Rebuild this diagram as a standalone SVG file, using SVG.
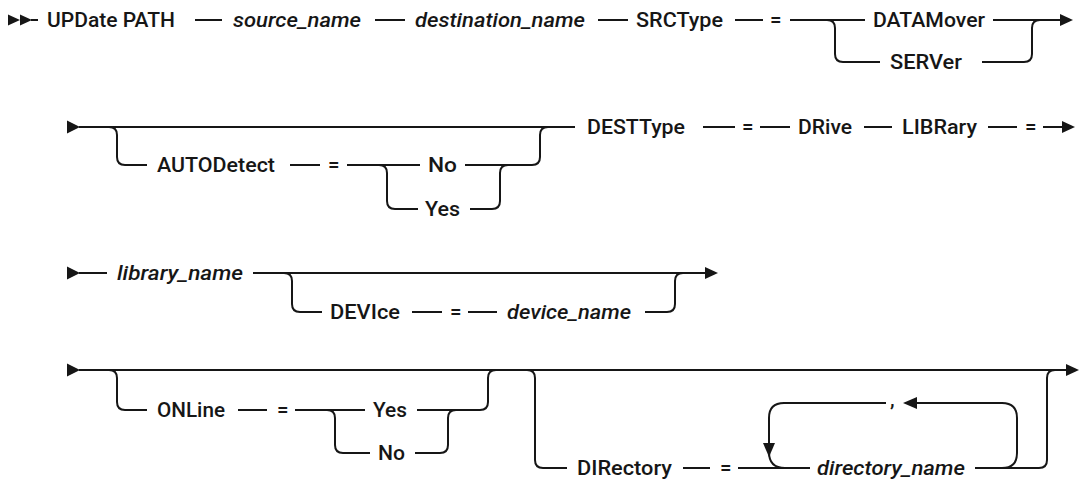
<svg xmlns="http://www.w3.org/2000/svg" width="1080" height="482" viewBox="0 0 1080 482">
<defs>
<style>
.t{font-family:Roboto,"Liberation Sans",Arial,sans-serif;font-size:20.5px;font-weight:500;fill:#161616}
.i{font-style:italic}
.c{fill:none;stroke:#161616;stroke-width:2}
.a{fill:#161616;stroke:none}
</style>
</defs>
<rect width="1080" height="482" fill="#ffffff"/>
<g id="connectors">
<!-- row 1 -->
<polygon class="a" points="8,14.5 20,20 8,25.5"/>
<polygon class="a" points="20,14.5 32,20 20,25.5"/>
<path class="c" d="M31 20H38M195 20H222M375 20H405M598 20H628M735 20H763M790 20H865M993 20H1061"/>
<polygon class="a" points="1060,14 1073,20 1060,26"/>
<path class="c" d="M827 20Q835 20 835 28V54Q835 62 843 62H880M982 62H1024Q1032 62 1032 54V28Q1032 20 1040 20"/>
<!-- row 2 -->
<polygon class="a" points="67,120.5 80,127 67,133.5"/>
<path class="c" d="M79 127H575M703 127H735M760 127H790M864 127H892M988 127H1017M1043 127H1063"/>
<polygon class="a" points="1062,121 1075,127 1062,133"/>
<path class="c" d="M109 127Q117 127 117 135V157Q117 165 125 165H147M290 165H320M347 165H420M465 165H532Q540 165 540 157V135Q540 127 548 127"/>
<path class="c" d="M379 165Q387 165 387 173V201Q387 209 395 209H418M470 209H492Q500 209 500 201V173Q500 165 508 165"/>
<!-- row 3 -->
<polygon class="a" points="67,266.5 80,273 67,279.5"/>
<path class="c" d="M79 273H107M253 273H706"/>
<polygon class="a" points="705,267 718,273 705,279"/>
<path class="c" d="M284 273Q292 273 292 281V304Q292 312 300 312H322M412 312H442M468 312H497M645 312H667Q675 312 675 304V281Q675 273 683 273"/>
<!-- row 4 -->
<polygon class="a" points="67,363.5 80,370 67,376.5"/>
<path class="c" d="M79 370H1067"/>
<polygon class="a" points="1066,364 1079,370 1066,376"/>
<path class="c" d="M109 370Q117 370 117 378V402Q117 410 125 410H147M238 410H267M295 410H365M417 410H480Q488 410 488 402V378Q488 370 496 370"/>
<path class="c" d="M327 410Q335 410 335 418V445Q335 453 343 453H370M415 453H440Q448 453 448 445V418Q448 410 456 410"/>
<path class="c" d="M527 370Q535 370 535 378V460Q535 468 543 468H567M683 468H710M738 468H810M975 468H1039Q1047 468 1047 460V378Q1047 370 1055 370"/>
<path class="c" d="M1002 468Q1017 468 1017 453V418Q1017 403 1002 403H916M886 403H784Q769 403 769 418V445M769 452Q769 468 785 468"/>
<polygon class="a" points="903,403 917,397 917,409"/>
<polygon class="a" points="763,443 775,443 769,457"/>
</g>
<g id="n-update-path"><text class="t" x="47" y="27" textLength="128" lengthAdjust="spacingAndGlyphs">UPDate PATH</text></g>
<g id="n-source-name"><text class="t i" x="233" y="27" textLength="128" lengthAdjust="spacingAndGlyphs">source_name</text></g>
<g id="n-destination-name"><text class="t i" x="415" y="27" textLength="170" lengthAdjust="spacingAndGlyphs">destination_name</text></g>
<g id="n-srctype"><text class="t" x="636" y="27" textLength="87" lengthAdjust="spacingAndGlyphs">SRCType</text></g>
<g id="n-eq1"><text class="t" x="770" y="27">=</text></g>
<g id="n-datamover"><text class="t" x="873" y="27" textLength="112" lengthAdjust="spacingAndGlyphs">DATAMover</text></g>
<g id="n-server"><text class="t" x="890" y="69" textLength="72" lengthAdjust="spacingAndGlyphs">SERVer</text></g>
<g id="n-autodetect"><text class="t" x="157" y="172" textLength="118" lengthAdjust="spacingAndGlyphs">AUTODetect</text></g>
<g id="n-eq2"><text class="t" x="328" y="172">=</text></g>
<g id="n-no1"><text class="t" x="428" y="172" textLength="29" lengthAdjust="spacingAndGlyphs">No</text></g>
<g id="n-yes1"><text class="t" x="425" y="216" textLength="35" lengthAdjust="spacingAndGlyphs">Yes</text></g>
<g id="n-desttype"><text class="t" x="587" y="134" textLength="98" lengthAdjust="spacingAndGlyphs">DESTType</text></g>
<g id="n-eq3"><text class="t" x="742" y="134">=</text></g>
<g id="n-drive"><text class="t" x="798" y="134" textLength="54" lengthAdjust="spacingAndGlyphs">DRive</text></g>
<g id="n-library"><text class="t" x="902" y="134" textLength="75" lengthAdjust="spacingAndGlyphs">LIBRary</text></g>
<g id="n-eq4"><text class="t" x="1025" y="134">=</text></g>
<g id="n-library-name"><text class="t i" x="117" y="280" textLength="126" lengthAdjust="spacingAndGlyphs">library_name</text></g>
<g id="n-device"><text class="t" x="330" y="319" textLength="70" lengthAdjust="spacingAndGlyphs">DEVIce</text></g>
<g id="n-eq5"><text class="t" x="450" y="319">=</text></g>
<g id="n-device-name"><text class="t i" x="507" y="319" textLength="124" lengthAdjust="spacingAndGlyphs">device_name</text></g>
<g id="n-online"><text class="t" x="157" y="417" textLength="68" lengthAdjust="spacingAndGlyphs">ONLine</text></g>
<g id="n-eq6"><text class="t" x="277" y="417">=</text></g>
<g id="n-yes2"><text class="t" x="373" y="417" textLength="34" lengthAdjust="spacingAndGlyphs">Yes</text></g>
<g id="n-no2"><text class="t" x="378" y="460" textLength="27" lengthAdjust="spacingAndGlyphs">No</text></g>
<g id="n-directory"><text class="t" x="577" y="475" textLength="95" lengthAdjust="spacingAndGlyphs">DIRectory</text></g>
<g id="n-eq7"><text class="t" x="720" y="475">=</text></g>
<g id="n-directory-name"><text class="t i" x="817" y="475" textLength="148" lengthAdjust="spacingAndGlyphs">directory_name</text></g>
<g id="n-comma"><text class="t" x="890" y="406">,</text></g>
</svg>
